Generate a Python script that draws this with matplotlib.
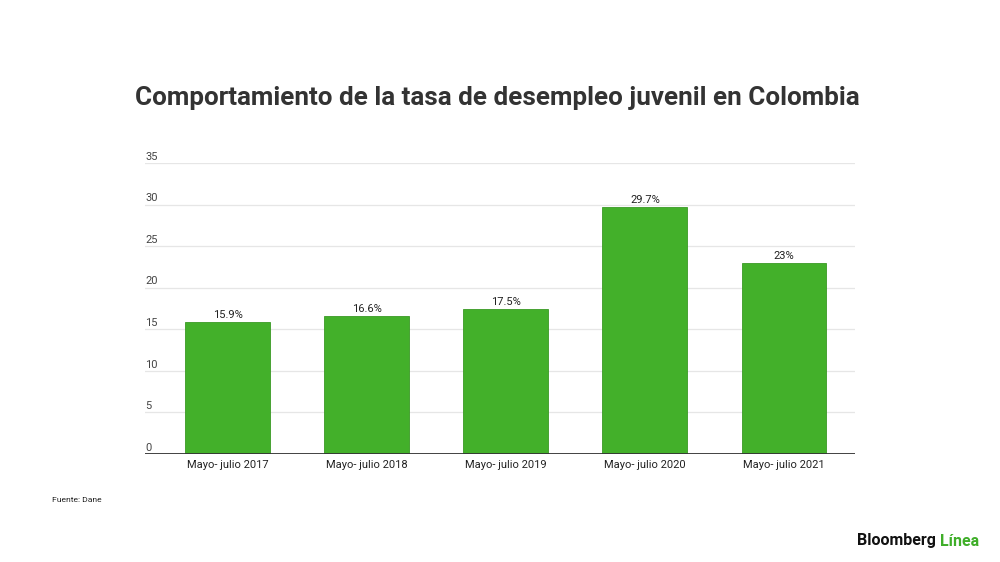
import matplotlib
matplotlib.use("Agg")
import matplotlib.pyplot as plt
from matplotlib.transforms import blended_transform_factory

categories = ["Mayo- julio 2017", "Mayo- julio 2018", "Mayo- julio 2019",
              "Mayo- julio 2020", "Mayo- julio 2021"]
values = [15.9, 16.6, 17.5, 29.7, 23.0]
value_labels = ["15.9%", "16.6%", "17.5%", "29.7%", "23%"]
yticks = [0, 5, 10, 15, 20, 25, 30, 35]

plt.rcParams['font.family'] = ['Roboto', 'DejaVu Sans']

fig = plt.figure(figsize=(10, 5.62), dpi=100)
W, H = 1000, 562
ax_left, ax_right = 145, 855
ax_top, ax_bottom = 163, 454
ax = fig.add_axes([ax_left / W, 1 - ax_bottom / H, (ax_right - ax_left) / W, (ax_bottom - ax_top) / H])

green = "#43b02a"
x = list(range(len(categories)))
ax.bar(x, values, width=0.61, color=green, edgecolor="#3a9a24", linewidth=0.6, zorder=3)

ax.set_xlim(-0.5935, 4.51)
ax.set_ylim(0, 35)
for v in yticks[1:]:
    ax.axhline(v, color="#e6e6e6", linewidth=0.9, zorder=1)
ax.axhline(0, color="#333333", linewidth=1.3, zorder=4)

for s in ax.spines.values():
    s.set_visible(False)
ax.set_yticks([])
ax.set_xticks(x)
ax.set_xticklabels(categories, fontsize=8, color="#222222")
ax.tick_params(axis='x', length=0, pad=4)

trans = blended_transform_factory(ax.transAxes, ax.transData)
for v in yticks:
    ax.text(0.0, v + 0.15, str(v), transform=trans, ha='left', va='bottom',
            fontsize=8, color="#444444")

for xi, v, lab in zip(x, values, value_labels):
    ax.text(xi, v + 0.2, lab, ha='center', va='bottom', fontsize=8, color="#222222", zorder=5)

fig.text(0.497, 1 - 98 / H, "Comportamiento de la tasa de desempleo juvenil en Colombia",
         ha='center', va='center', fontsize=18.7, fontweight='bold', color="#333333")

fig.text(52 / W, 1 - 500 / H, "Fuente: Dane", ha='left', va='center', fontsize=6.1, color="#222222")

t1 = fig.text(857 / W, 1 - 541 / H, "Bloomberg ", ha='left', va='center', fontsize=11.5,
              fontweight='bold', color="#111111")
fig.canvas.draw()
bb = t1.get_window_extent()
fig.text(bb.x1 / W, 1 - 541 / H, "Línea", ha='left', va='center', fontsize=11.5,
         fontweight='bold', color="#3fae29")

fig.savefig("out.png", dpi=100, facecolor="white")
